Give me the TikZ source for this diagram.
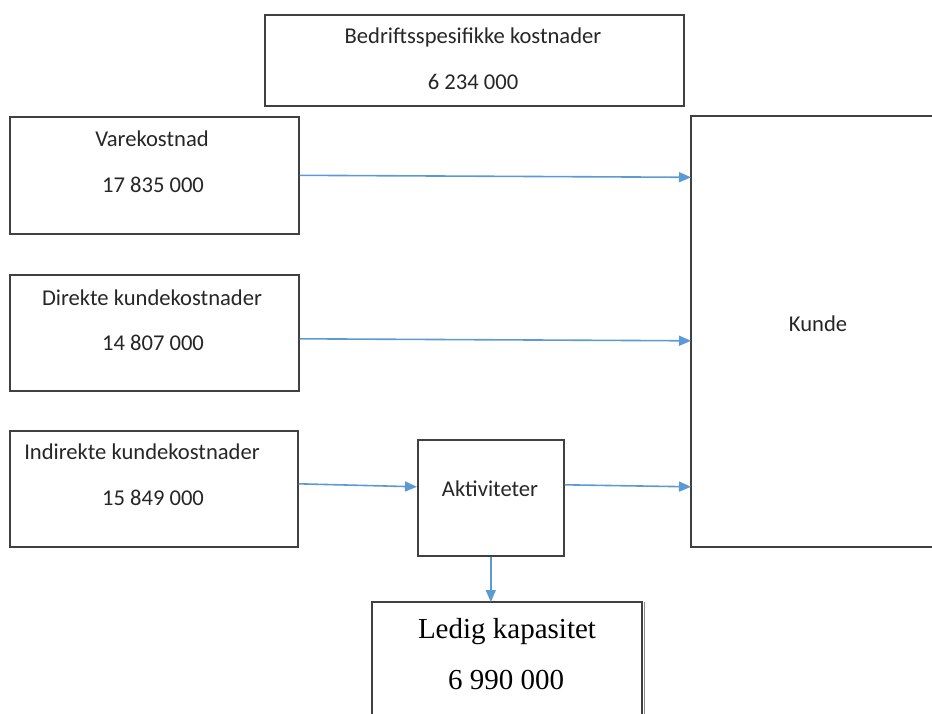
\documentclass[tikz,border=0pt]{standalone}
\usepackage{fontspec}
\setmainfont{Carlito}
\newfontfamily\timesfont{Liberation Serif}
\usetikzlibrary{arrows.meta}

\tikzset{
  box/.style={draw=black!75, line width=0.8pt, rectangle, anchor=north west, inner sep=0pt},
  frame/.style={rectangle, anchor=north west, inner sep=0pt},
  txt/.style={font=\fontsize{11.3}{13}\selectfont, text=black!85, inner sep=0pt},
  conn/.style={draw={rgb,255:red,91;green,155;blue,213}, line width=0.8pt, -{Triangle[length=6pt,width=5pt]}}
}

\begin{document}
\begin{tikzpicture}[x=0.5pt, y=-0.5pt]
\useasboundingbox (0,0) rectangle (932,713);

\node (bedrift) [box, minimum width=209.5pt, minimum height=45.5pt] at (264,14) {};
\node (vare) [box, minimum width=144.5pt, minimum height=58.5pt] at (9,116) {};
\node (dir) [box, minimum width=144.5pt, minimum height=58pt] at (9,274) {};
\node (indir) [box, minimum width=144pt, minimum height=58pt] at (9,430) {};
\node (aktiv) [box, minimum width=73pt, minimum height=58pt] at (417,439) {};
\node (kunde) [frame, minimum width=120.5pt, minimum height=215pt] at (691,116) {};
\node (ledig) [frame, minimum width=134.5pt, minimum height=55.5pt] at (372,602) {};

% open sides
\draw[draw=black!75, line width=0.8pt] (kunde.north east) -| (kunde.south west) -- (kunde.south east);
\draw[draw=black!75, line width=0.8pt] (ledig.south west) |- (ledig.north east) -- (ledig.south east);
\draw[draw=black!45, line width=0.6pt] ([xshift=1.3pt]ledig.north east) -- ([xshift=1.3pt]ledig.south east);

% texts
\node (bedrift1) [txt] at (473,37) {Bedriftsspesifikke kostnader};
\node (bedrift2) [txt] at (473,82) {6 234 000};
\node (vare1) [txt] at (152,139) {Varekostnad};
\node (vare2) [txt] at (153,185) {17 835 000};
\node (dir1) [txt] at (152,298) {Direkte kundekostnader};
\node (dir2) [txt] at (153,343) {14 807 000};
\node (indir1) [txt] at (142,452) {Indirekte kundekostnader};
\node (indir2) [txt] at (153,498) {15 849 000};
\node (aktiv1) [txt] at (490,489) {Aktiviteter};
\node (kunde1) [txt] at (818,324) {Kunde};
\node (ledig1) [font=\timesfont\fontsize{14.5}{17}\selectfont, inner sep=0pt] at (507,632) {Ledig kapasitet};
\node (ledig2) [font=\timesfont\fontsize{14.5}{17}\selectfont, inner sep=0pt] at (506,680) {6 990 000};

\draw[conn] (vare.east) -- ([yshift=-1pt]kunde.west |- vare.east);
\draw[conn] ([yshift=-3pt]dir.east) -- ([yshift=-4pt]kunde.west |- dir.east);
\draw[conn] ([yshift=2.5pt]indir.east) -- ([yshift=5.5pt]aktiv.west);
\draw[conn] ([yshift=6.5pt]aktiv.east) -- ([yshift=5.5pt]kunde.west |- aktiv.east);
\draw[conn] (aktiv.south) -- (aktiv.south |- ledig.north);

\end{tikzpicture}
\end{document}
